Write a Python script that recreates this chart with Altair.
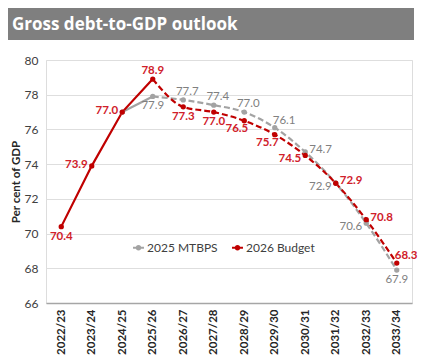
import altair as alt
import pandas as pd

years = ["2022/23", "2023/24", "2024/25", "2025/26", "2026/27", "2027/28",
         "2028/29", "2029/30", "2030/31", "2031/32", "2032/33", "2033/34"]
mtbps = [None, None, 77.0, 77.9, 77.7, 77.4, 77.0, 76.1, 74.7, 72.9, 70.6, 67.9]
budget = [70.4, 73.9, 77.0, 78.9, 77.3, 77.0, 76.5, 75.7, 74.5, 72.9, 70.8, 68.3]
mtbps_label_pos = [None, None, None, "below", "above", "above", "above",
                   "aboveright", "right", "lowleft", "lowleft", "below"]
budget_label_pos = ["below", "left", "left", "top", "below", "below", "belowleft",
                    "belowleft", "lowleft", "right", "right", "aboveright"]
series_names = ["2025 MTBPS", "2026 Budget"]
last_actual = "2025/26"

RED = "#c00000"
RED_TXT = "#d0202a"
GRAY = "#a3a3a3"
GRAY_TXT = "#808080"

rows = []
cut = years.index(last_actual)
for name, vals, poss in [(series_names[0], mtbps, mtbps_label_pos),
                         (series_names[1], budget, budget_label_pos)]:
    for i, (y, v, p) in enumerate(zip(years, vals, poss)):
        if v is None:
            continue
        rows.append({"year": y, "value": v, "series": name, "pos": p or "none",
                     "solid": i <= cut, "dashed": i >= cut, "label": f"{v:.1f}"})
df = pd.DataFrame(rows)

W, H = 366, 243

x = alt.X("year:N", sort=years, title=None,
          scale=alt.Scale(padding=0.5),
          axis=alt.Axis(labelAngle=-90, labelFontWeight="bold", labelFontSize=11.5,
                        labelFont="Lato", labelColor="#262626", ticks=False,
                        domainColor="#a6a6a6", domainWidth=1.5, labelPadding=6,
                        labelBaseline="middle", labelAlign="right"))
y = alt.Y("value:Q", title="Per cent of GDP",
          scale=alt.Scale(domain=[66, 80], nice=False, zero=False),
          axis=alt.Axis(values=[66, 68, 70, 72, 74, 76, 78, 80], ticks=False,
                        domain=False, gridColor="#dedede", labelFontSize=12,
                        labelFont="Lato", labelColor="#404040", labelPadding=8,
                        titleFont="Lato", titleFontSize=11.5, titleFontWeight="bold",
                        titleColor="#262626", titlePadding=3))

legend_path = "M-1,0H1M-0.3,0A0.3,0.3,0,1,1,0.3,0A0.3,0.3,0,1,1,-0.3,0Z"
leg = alt.Legend(title=None, orient="none", direction="horizontal",
                 legendX=86, legendY=181, symbolType=legend_path,
                 symbolSize=120, symbolStrokeWidth=2,
                 labelFont="Lato", labelFontSize=12,
                 labelColor="#404040", columnPadding=10, labelOffset=2)
color_leg = alt.Color("series:N",
                      scale=alt.Scale(domain=series_names, range=[GRAY, RED]),
                      legend=leg)

base = alt.Chart(df)

solid = base.transform_filter("datum.solid").mark_line(strokeWidth=2.2).encode(
    x=x, y=y, color=color_leg, detail="series:N")
dashed = base.transform_filter("datum.dashed").mark_line(
    strokeWidth=2.2, strokeDash=[6, 3], interpolate="monotone").encode(
    x=x, y=y, color=color_leg, detail="series:N")
points = base.mark_circle(size=28, opacity=1).encode(x=x, y=y, color=color_leg)

placements = {
    "top": (0, -8, "center"),
    "above": (4, -8, "center"),
    "below": (0, 10, "center"),
    "belowleft": (4, 8, "right"),
    "left": (-4, -1, "right"),
    "lowleft": (-4, 4, "right"),
    "right": (4, -2, "left"),
    "aboveright": (-2, -7, "left"),
}
text_layers = []
for name, tcol, weight in [(series_names[0], GRAY_TXT, "normal"),
                           (series_names[1], RED_TXT, "bold")]:
    for p, (dx, dy, al) in placements.items():
        text_layers.append(
            base.transform_filter(alt.datum.series == name)
            .transform_filter(alt.datum.pos == p)
            .mark_text(dx=dx, dy=dy, align=al, baseline="middle", font="Lato",
                       fontSize=11.5, fontWeight=weight, color=tcol)
            .encode(x=x, y=y, text="label:N"))

tdf = pd.DataFrame({"t": ["Gross debt-to-GDP outlook"]})
bar = alt.Chart(tdf).mark_rect(color="#7f7f7f").encode(
    x=alt.value(-38), x2=alt.value(W + 2), y=alt.value(-52), y2=alt.value(-20))
ttext = alt.Chart(tdf).mark_text(align="left", baseline="alphabetic", font="Open Sans",
                                 fontWeight="bold", fontSize=17, color="white").encode(
    x=alt.value(-34), y=alt.value(-30), text="t:N")

chart = alt.layer(bar, ttext, solid, dashed, points, *text_layers).properties(
    width=W, height=H, padding=0
).configure_view(stroke=None).configure(background="white")

chart.save("out.html", embed_options={"renderer": "svg", "actions": False})
